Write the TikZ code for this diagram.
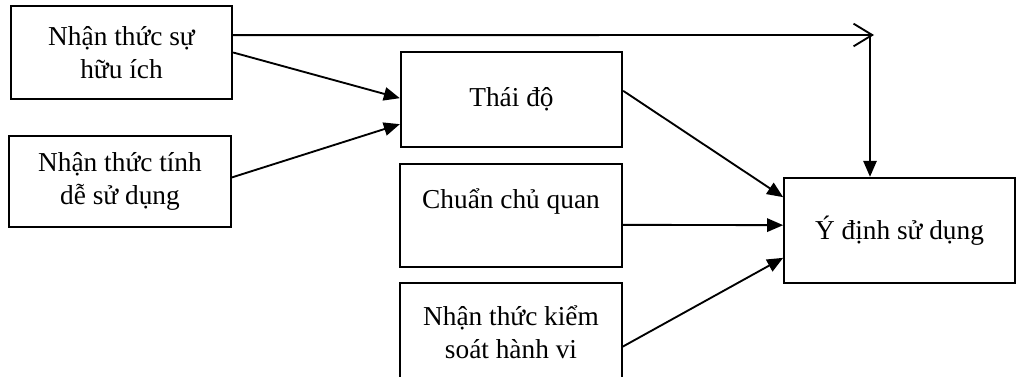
\documentclass[tikz,border=0pt]{standalone}
\usepackage{fontspec}
\setmainfont{Liberation Serif}
\usetikzlibrary{arrows.meta}

\begin{document}
\begin{tikzpicture}[x=0.75pt, y=-0.75pt]
  % Define styles
  \tikzstyle{factor} = [rectangle, draw, line width=1.5pt, minimum width=166pt, minimum height=70pt, align=center, font=\fontsize{20.5}{25}\selectfont]
  \tikzstyle{link} = [line width=1.4pt, -{Triangle[length=12pt, width=10pt]}]
  \tikzstyle{openlink} = [line width=1.4pt, -{Straight Barb[length=14pt, width=17pt]}]

  \useasboundingbox (0,0) rectangle (1016,377);
  \clip (0,0) rectangle (1016,377);

  % Left column
  \node[factor, minimum height=70pt] (useful) at (121.5,52.5) {Nhận thức sự\\hữu ích};
  \node[factor, minimum height=68pt] (ease) at (120,181.5) {Nhận thức tính\\dễ sử dụng};

  % Middle column
  \node[factor, minimum height=71pt] (attitude) at (511.5,99.5) {Thái độ};
  \node[factor, minimum height=77pt] (norm) at (511,215.5) {Chuẩn chủ quan\\\mbox{}};
  \node[factor, minimum height=74pt] (control) at (511,332) {Nhận thức kiểm\\soát hành vi};

  % Outcome
  \node[factor, minimum width=173pt, minimum height=79pt] (intention) at (899.5,230.5) {Ý định sử dụng};

  % Junction on the top line
  \coordinate (junction) at (874,35);

  % Connections - to attitude
  \draw[link] (useful.east) -- ([yshift=1pt]attitude.west);
  \draw[link] ([yshift=3pt]ease.east) -- ([yshift=-18.5pt]attitude.west);

  % Direct path to intention
  \draw[openlink] ([yshift=13pt]useful.east) -- (junction);
  \draw[link] ([xshift=-3pt]junction) -- ([xshift=-3pt]junction |- intention.north);

  % Connections - to intention
  \draw[link] ([yshift=6.5pt]attitude.east) -- ([yshift=25pt]intention.west);
  \draw[link] ([yshift=-7pt]norm.east) -- ([yshift=4pt]intention.west);
  \draw[link] ([yshift=-11pt]control.east) -- ([yshift=-20.5pt]intention.west);

\end{tikzpicture}
\end{document}
